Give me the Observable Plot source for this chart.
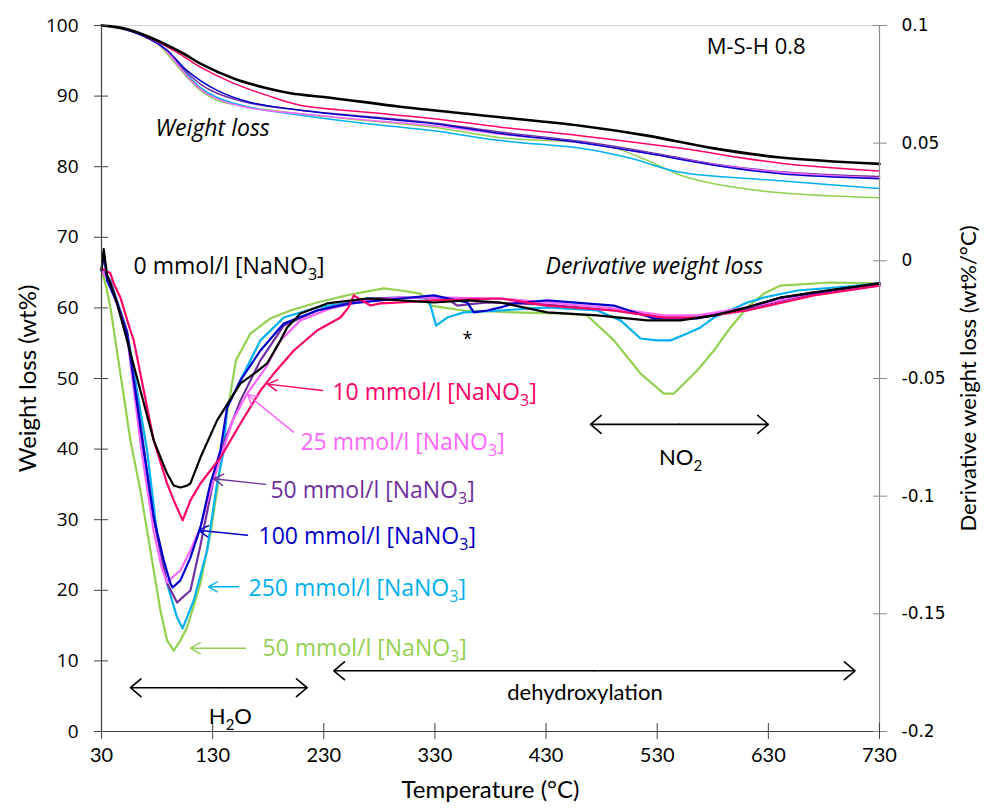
<!DOCTYPE html>
<html><head><meta charset="utf-8">
<script src="https://cdn.jsdelivr.net/npm/d3@7"></script>
<script src="https://cdn.jsdelivr.net/npm/@observablehq/plot@0.6"></script>
<style>body{margin:0;background:#fff}</style>
</head><body><div id="chart"></div>
<script>
// ---- axes ----
const xTicks = [30, 130, 230, 330, 430, 530, 630, 730];
const yTicks = [0, 10, 20, 30, 40, 50, 60, 70, 80, 90, 100];
const dTicks = [-0.2, -0.15, -0.1, -0.05, 0, 0.05, 0.1];

// ---- series ----
const seriesNames = ["0 mmol/l", "10 mmol/l", "25 mmol/l", "50 mmol/l", "100 mmol/l", "250 mmol/l", "50 mmol/l (green)"];
const seriesColors = ["#000000", "#FF0066", "#FF66FF", "#7030A0", "#0000CC", "#00B0F0", "#92D050"];

// Weight loss (wt%) : [temperature, value]
const tgBlack = [[30,100],[50,99.6],[74,98.3],[104,96.0],[119,94.6],[149,92.5],[179,91.1],[200,90.4],[239,89.7],[299,88.5],[359,87.5],[389,87.0],[461,85.8],[521,84.4],[581,82.6],[641,81.3],[730,80.4]];
const tgRed = [[30,100],[50,99.6],[74,98.2],[98,96.2],[119,94.1],[149,91.8],[179,90.1],[209,88.7],[269,87.7],[329,86.8],[389,85.6],[461,84.4],[551,82.6],[641,80.5],[730,79.4]];
const tgPink = [[30,100],[50,99.5],[74,98.1],[89,96.3],[104,93.4],[119,91.0],[134,89.6],[164,88.3],[209,87.5],[269,86.6],[329,85.8],[389,84.6],[461,83.4],[521,81.9],[581,80.3],[641,79.2],[730,78.4]];
const tgPurple = [[30,100],[50,99.5],[74,98.1],[89,96.4],[104,93.8],[119,91.7],[134,90.4],[164,89.0],[209,88.0],[269,87.1],[329,86.2],[389,84.9],[461,83.6],[521,82.1],[581,80.4],[641,79.3],[730,78.6]];
const tgBlue = [[30,100],[50,99.5],[74,98.0],[89,96.5],[107,93.6],[134,90.8],[164,89.1],[209,88.0],[269,87.0],[329,86.1],[389,84.7],[461,83.4],[521,81.9],[581,80.2],[641,79.0],[730,78.3]];
const tgCyan = [[30,100],[50,99.5],[74,98.2],[89,96.5],[104,93.6],[119,91.2],[134,89.8],[164,88.4],[209,87.3],[269,86.1],[329,85.1],[389,83.7],[461,82.6],[506,81.2],[551,79.2],[641,78.0],[730,76.9]];
const tgGreen = [[30,100],[50,99.4],[74,98.3],[89,96.0],[104,93.2],[119,90.8],[134,89.4],[164,88.4],[209,87.5],[269,86.5],[329,85.6],[389,84.1],[461,83.4],[491,82.7],[521,80.9],[551,78.8],[581,77.6],[641,76.3],[730,75.6]];

// Derivative weight loss (wt%/°C) : [temperature, value]
const dtgBlack = [[30,-0.004],[32,0.005],[35,-0.006],[38,-0.0096],[44,-0.018],[53,-0.0338],[65,-0.0551],[77,-0.0763],[89,-0.0904],[95,-0.0955],[101,-0.0963],[107,-0.0955],[110,-0.0946],[119,-0.0836],[134,-0.0678],[155,-0.0521],[170,-0.047],[179,-0.0436],[191,-0.0338],[197,-0.0283],[209,-0.0224],[233,-0.0181],[269,-0.016],[299,-0.0168],[329,-0.0177],[359,-0.0168],[389,-0.0177],[431,-0.0219],[476,-0.0232],[521,-0.0253],[551,-0.0253],[581,-0.0232],[611,-0.0198],[641,-0.0156],[671,-0.0134],[730,-0.0096]];
const dtgRed = [[30,-0.0032],[38,-0.0053],[41,-0.0096],[47,-0.0156],[56,-0.0296],[59,-0.0338],[68,-0.0551],[77,-0.0763],[89,-0.0946],[95,-0.1018],[103,-0.1103],[110,-0.1018],[119,-0.0946],[128,-0.0891],[137,-0.0836],[155,-0.0691],[173,-0.0551],[185,-0.0479],[203,-0.0381],[224,-0.0296],[245,-0.0241],[252,-0.02],[257,-0.0147],[263,-0.0165],[272,-0.019],[281,-0.0181],[299,-0.0177],[329,-0.0168],[389,-0.016],[431,-0.019],[491,-0.0211],[536,-0.0241],[566,-0.0241],[611,-0.0211],[671,-0.0147],[730,-0.0105]];
const dtgPink = [[30,-0.004],[38,-0.0096],[53,-0.032],[66,-0.0806],[77,-0.115],[84,-0.13],[89,-0.1367],[95,-0.134],[101,-0.1316],[110,-0.1231],[119,-0.1133],[128,-0.0976],[137,-0.0836],[148,-0.068],[161,-0.0564],[178,-0.0453],[191,-0.0338],[209,-0.0253],[236,-0.0202],[269,-0.0168],[299,-0.0156],[341,-0.0156],[389,-0.016],[431,-0.0177],[491,-0.0202],[536,-0.0232],[566,-0.0232],[611,-0.0198],[671,-0.0134],[730,-0.0105]];
const dtgPurple = [[30,-0.004],[38,-0.009],[53,-0.03],[67,-0.076],[77,-0.11],[89,-0.137],[98,-0.1452],[103,-0.143],[110,-0.1401],[119,-0.121],[131,-0.0925],[141,-0.0763],[155,-0.0594],[173,-0.0423],[194,-0.0275],[224,-0.0211],[269,-0.016],[299,-0.0156],[341,-0.016],[350,-0.019],[360,-0.0185],[377,-0.0177],[431,-0.0186],[491,-0.0211],[536,-0.0241],[566,-0.0241],[611,-0.0202],[671,-0.0139],[730,-0.01]];
const dtgBlue = [[30,-0.004],[32,0.0032],[35,-0.0083],[44,-0.018],[53,-0.031],[68,-0.0806],[77,-0.1091],[86,-0.1273],[92,-0.1371],[94,-0.1388],[101,-0.1358],[110,-0.1261],[119,-0.1133],[128,-0.0946],[137,-0.0806],[143,-0.0623],[155,-0.0508],[173,-0.0381],[194,-0.0266],[224,-0.0211],[254,-0.0181],[299,-0.016],[329,-0.0147],[359,-0.0177],[365,-0.0219],[377,-0.0211],[389,-0.0198],[401,-0.0181],[431,-0.0168],[491,-0.019],[527,-0.0245],[566,-0.0245],[596,-0.0219],[641,-0.0156],[730,-0.0096]];
const dtgCyan = [[30,-0.0032],[38,-0.0083],[53,-0.03],[71,-0.0806],[80,-0.1159],[89,-0.1371],[98,-0.1516],[103,-0.1562],[113,-0.1443],[125,-0.1231],[134,-0.0946],[140,-0.0806],[143,-0.0623],[158,-0.0479],[173,-0.0338],[194,-0.0241],[224,-0.0198],[254,-0.0177],[269,-0.016],[299,-0.0156],[323,-0.016],[326,-0.019],[331,-0.0275],[341,-0.0241],[356,-0.0219],[389,-0.0211],[431,-0.0198],[476,-0.0211],[497,-0.0253],[515,-0.033],[530,-0.0338],[542,-0.0338],[557,-0.0309],[569,-0.0283],[581,-0.0241],[611,-0.0177],[626,-0.0156],[656,-0.0126],[701,-0.0109],[730,-0.0096]];
const dtgGreen = [[30,-0.0041],[34,-0.0105],[38,-0.0198],[47,-0.0479],[56,-0.0763],[65,-0.0976],[74,-0.1231],[83,-0.1486],[89,-0.1613],[95,-0.1656],[101,-0.1613],[107,-0.1558],[119,-0.1371],[128,-0.1159],[134,-0.0976],[142,-0.0678],[151,-0.0423],[164,-0.0309],[182,-0.0245],[200,-0.0211],[224,-0.0177],[254,-0.0143],[284,-0.0117],[299,-0.0126],[317,-0.0139],[326,-0.019],[356,-0.0211],[401,-0.0219],[446,-0.0224],[467,-0.0232],[491,-0.0338],[515,-0.0479],[536,-0.0564],[545,-0.0564],[566,-0.0466],[581,-0.0381],[596,-0.0283],[611,-0.0198],[626,-0.0139],[641,-0.0105],[686,-0.0092],[730,-0.0096]];

// ---- annotations ----
const labelTexts = ["0 mmol/l [NaNO₃]", "10 mmol/l [NaNO₃]", "25 mmol/l [NaNO₃]", "50 mmol/l [NaNO₃]", "100 mmol/l [NaNO₃]", "250 mmol/l [NaNO₃]", "50 mmol/l [NaNO₃]"];
const labelT = [58.8, 237.8, 209, 182, 171.3, 162.3, 174.9];
const labelV = [65.9, 48.0, 40.9, 34.1, 27.6, 20.3, 11.8];
const arrowFromT = [228.8, 202.8, 177.6, 161.4, 153.3, 159.6];
const arrowFromV = [48.3, 42.4, 35.0, 27.8, 20.5, 11.8];
const arrowToT = [179.4, 161.4, 130.8, 117.3, 126.3, 110.1];
const arrowToV = [49.2, 47.7, 35.8, 28.5, 20.5, 11.8];

const rangeNames = ["H₂O", "dehydroxylation", "NO₂"];
const rangeFrom = [56, 239, 470];
const rangeTo = [215, 708, 630];
const rangeV = [6.2, 8.6, 43.5];
const rangeLabelV = [2.1, 5.5, 38.7];
const rangeLabelT = [146, 465, 551];

const notes = ["M-S-H 0.8", "Weight loss", "Derivative weight loss", "*"];
const noteT = [619, 78.6, 429.5, 359.3];
const noteV = [96.9, 85.4, 65.9, 55.6];

// ---- build ----
const toLeft = d => (d + 0.2) / 0.3 * 100;
const fmtD = v => String(+(v * 0.3 / 100 - 0.2).toFixed(2));

const tgs = [tgBlack, tgRed, tgPink, tgPurple, tgBlue, tgCyan, tgGreen];
const dtgs = [dtgBlack, dtgRed, dtgPink, dtgPurple, dtgBlue, dtgCyan, dtgGreen];
const drawOrder = [6, 5, 3, 2, 4, 1, 0];

const labels = labelTexts.map((t, i) => ({text: t, T: labelT[i], v: labelV[i], color: seriesColors[i]}));
const arrows = arrowFromT.map((t, i) => ({x1: t, y1: arrowFromV[i], x2: arrowToT[i], y2: arrowToV[i], color: seriesColors[i + 1]}));
const rangeArrows = [];
rangeNames.forEach((n, i) => {
  const mid = (rangeFrom[i] + rangeTo[i]) / 2;
  rangeArrows.push({x1: mid, x2: rangeFrom[i], y: rangeV[i]});
  rangeArrows.push({x1: mid, x2: rangeTo[i], y: rangeV[i]});
});
const rangeLabels = rangeNames.map((n, i) => ({text: n, T: rangeLabelT[i], v: rangeLabelV[i]}));
const noteData = notes.map((n, i) => ({text: n, T: noteT[i], v: noteV[i]}));

const marks = [];
marks.push(Plot.ruleY([100], {stroke: "#d0d0d0", strokeWidth: 1}));
drawOrder.forEach(i => {
  marks.push(Plot.line(tgs[i], {x: d => d[0], y: d => d[1], stroke: seriesColors[i], strokeWidth: i === 0 ? 2.6 : 1.5, curve: "catmull-rom"}));
});
drawOrder.forEach(i => {
  marks.push(Plot.line(dtgs[i], {x: d => d[0], y: d => toLeft(d[1]), stroke: seriesColors[i], strokeWidth: 2.2, strokeLinejoin: "round"}));
});
marks.push(
  Plot.ruleX([30], {stroke: "#404040", strokeWidth: 1.2}),
  Plot.ruleX([730], {stroke: "#8c8c8c", strokeWidth: 1.2}),
  Plot.ruleY([0], {stroke: "#404040", strokeWidth: 1.2}),
  Plot.axisY({ticks: yTicks, tickSize: 14, dx: 7, tickPadding: 16, tickFormat: d => String(d), label: null,
    fontSize: 19, fontFamily: "'Open Sans', sans-serif", stroke: "#404040"}),
  Plot.axisY({anchor: "right", ticks: dTicks.map(toLeft), tickFormat: fmtD, tickSize: 14, dx: -7, tickPadding: 15, label: null,
    fontSize: 17, fontFamily: "'DejaVu Sans', sans-serif", stroke: "#8c8c8c"}),
  Plot.axisX({ticks: xTicks, tickSize: 16, dy: -8, tickPadding: 8, tickFormat: d => String(d), label: null,
    fontSize: 20, fontFamily: "Lato, sans-serif", stroke: "#404040"}),
  Plot.text(["Weight loss (wt%)"], {frameAnchor: "left", textAnchor: "middle", rotate: -90, dx: -73, fontSize: 24, fontFamily: "Lato, sans-serif", fill: "#000"}),
  Plot.text(["Derivative weight loss (wt%/°C)"], {frameAnchor: "right", textAnchor: "middle", rotate: -90, dx: 89, fontSize: 22, fontFamily: "Lato, sans-serif", fill: "#000"}),
  Plot.text(["Temperature (°C)"], {frameAnchor: "bottom", dy: 66, fontSize: 24, fontFamily: "Lato, sans-serif", fill: "#000"}),
  Plot.arrow(arrows, {x1: "x1", y1: "y1", x2: "x2", y2: "y2", stroke: "color", strokeWidth: 1.4, headLength: 12, headAngle: 60}),
  Plot.arrow(rangeArrows, {x1: "x1", y1: "y", x2: "x2", y2: "y", stroke: "#000", strokeWidth: 1.6, headLength: 13, headAngle: 80}),
  Plot.text(labels, {x: "T", y: "v", text: "text", fill: "color", textAnchor: "start", fontSize: 23, fontFamily: "'Open Sans', sans-serif"}),
  Plot.text(rangeLabels, {x: "T", y: "v", text: "text", fill: "#000", fontSize: 22, fontFamily: "Lato, sans-serif"}),
  Plot.text(noteData.slice(0, 1), {x: "T", y: "v", text: "text", fill: "#000", fontSize: 22, fontFamily: "'Open Sans', sans-serif"}),
  Plot.text(noteData.slice(1, 3), {x: "T", y: "v", text: "text", fill: "#000", fontSize: 23, fontStyle: "italic", textAnchor: "start", fontFamily: "'Open Sans', sans-serif"}),
  Plot.text(noteData.slice(3), {x: "T", y: "v", text: "text", fill: "#000", fontSize: 18, fontFamily: "'Open Sans', sans-serif"})
);

const chart = Plot.plot({
  width: 987, height: 811,
  marginLeft: 101, marginRight: 108, marginTop: 25, marginBottom: 80,
  x: {type: "linear", domain: [30, 730]},
  y: {type: "linear", domain: [0, 100]},
  style: {fontFamily: "'Open Sans', sans-serif", background: "#fff", color: "#000"},
  marks
});

// subscripts
const subMap = {"₂": "2", "₃": "3"};
const NS = "http://www.w3.org/2000/svg";
chart.querySelectorAll("text").forEach(t => {
  const s = t.textContent;
  if (!/[₂₃]/.test(s) || t.children.length) return;
  const fs = parseFloat(t.getAttribute("font-size") || (t.parentNode && t.parentNode.getAttribute && t.parentNode.getAttribute("font-size"))) || 20;
  const shift = Math.round(fs * 0.28);
  t.textContent = "";
  let buf = "", pendingDy = null;
  const flush = () => {
    if (buf) {
      const ts = document.createElementNS(NS, "tspan");
      ts.textContent = buf;
      if (pendingDy !== null) { ts.setAttribute("dy", pendingDy); pendingDy = null; }
      t.appendChild(ts);
      buf = "";
    }
  };
  for (const ch of s) {
    if (subMap[ch]) {
      flush();
      const sub = document.createElementNS(NS, "tspan");
      sub.textContent = subMap[ch];
      sub.setAttribute("font-size", Math.round(fs * 0.7));
      sub.setAttribute("dy", shift);
      t.appendChild(sub);
      pendingDy = -shift;
    } else buf += ch;
  }
  flush();
});
document.getElementById("chart").appendChild(chart);
</script>
</body></html>
